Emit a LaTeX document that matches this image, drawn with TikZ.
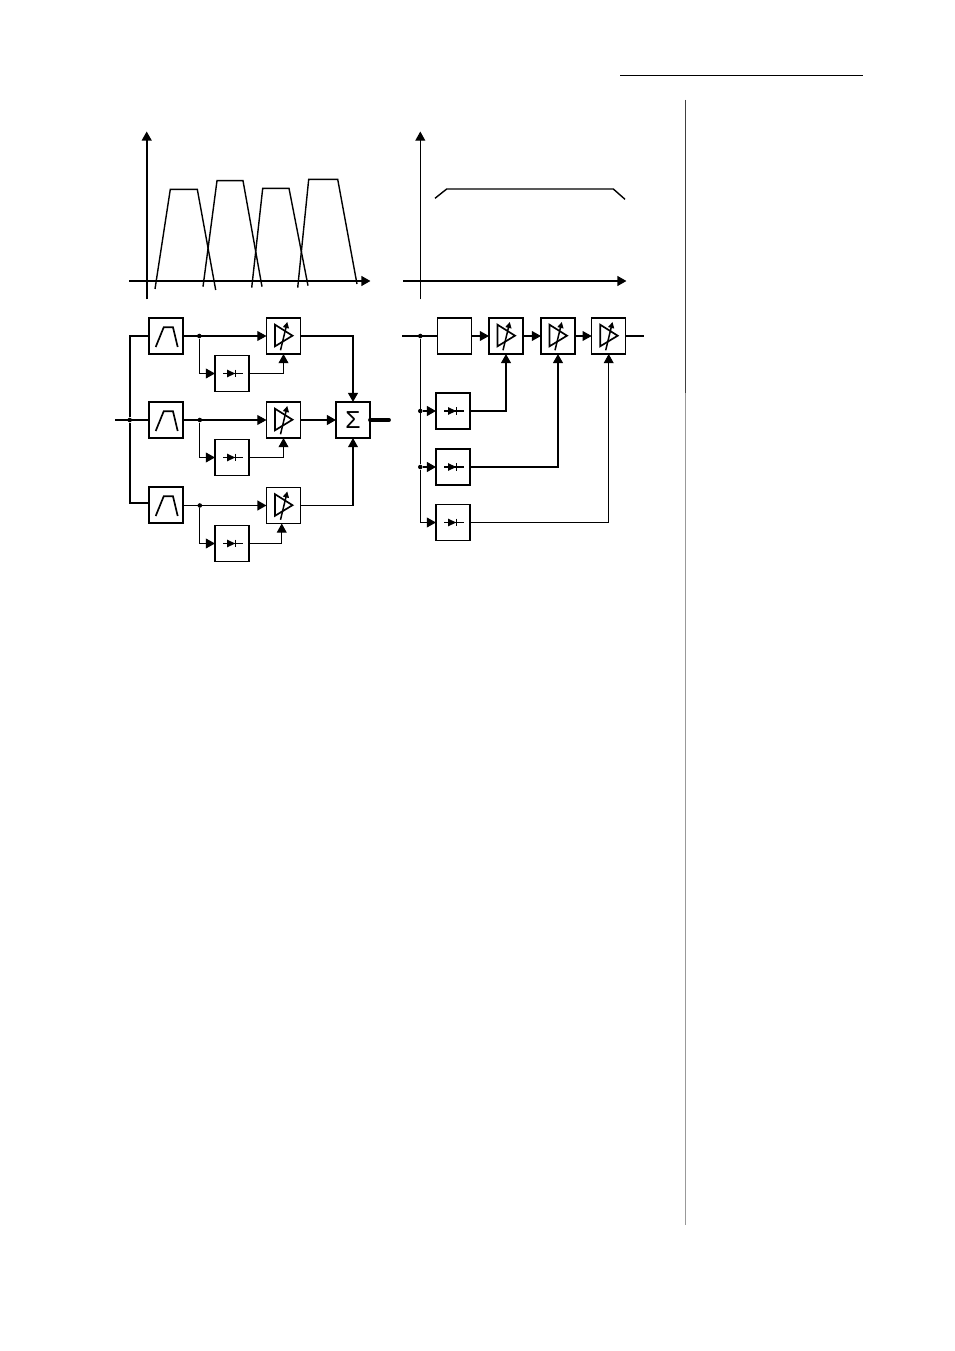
\documentclass[tikz,border=0pt]{standalone}
\usepackage{fontspec}
\setmainfont{Liberation Sans}
\usetikzlibrary{arrows.meta}

\tikzset{
	>={Triangle[length=5.2pt,width=5.6pt]},
	conn/.style={line width=0.6pt},
	thickconn/.style={line width=1pt},
	axis/.style={line width=1pt},
	curve/.style={line width=0.8pt},
	junc/.style={circle,fill,inner sep=0pt,minimum size=2.6pt},
	block/.style={draw,line width=1.1pt,inner sep=0pt,outer sep=0pt,minimum width=0.68cm,minimum height=0.72cm},
	thinblock/.style={block,line width=0.7pt},
	filtersym/.style={path picture={
		\draw[line width=0.95pt,shift={(path picture bounding box.center)}] (-10.3,11) -- (-2.3,-8.7) -- (7,-8.7) -- (11.7,11);
	}},
	ampsym/.style={path picture={
		\draw[line width=0.95pt,shift={(path picture bounding box.center)}] (-8.5,-11.3) -- (-8.5,10.3) -- (9,-0.3) -- cycle;
		\draw[->,line width=0.85pt,shift={(path picture bounding box.center)},>={Triangle[length=3.4pt,width=3.4pt]}] (-3,14.3) -- (3.8,-14);
	}},
	diodesym/.style={path picture={
		\fill[shift={(path picture bounding box.center)}] (-5,-3.9) -- (-5,3.9) -- (3.2,0) -- cycle;
		\draw[line width=0.85pt,shift={(path picture bounding box.center)}] (-9,0) -- (11,0);
		\draw[line width=0.85pt,shift={(path picture bounding box.center)}] (3.5,-3.9) -- (3.5,3.9);
	}},
}

\begin{document}
\begin{tikzpicture}[x=0.02cm,y=-0.02cm]
	\useasboundingbox (0,0) rectangle (954,1351);

	% page rules
	\draw[line width=0.6pt] (620,75.2) coordinate (ruleL) -- (863,75.2) coordinate (ruleR);
	\draw[line width=0.5pt,black!40] (685,100) coordinate (sideT) -- (685,1225) coordinate (sideB);
	\draw[line width=0.5pt,black!75] (sideT) -- (685,393) coordinate (sideM);

	% left spectrum
	\coordinate (ax1t) at (146.7,131.5);
	\coordinate (ax1b) at (146.7,299.5);
	\coordinate (ax1l) at (129.3,281);
	\coordinate (ax1r) at (370.5,281);
	\draw[->,axis] (ax1b) -- (ax1t);
	\draw[->,axis] (ax1l) -- (ax1r);
	\draw[curve] (155,289) -- (170.3,189.3) -- (197.3,189.3) -- (215.7,290);
	\draw[curve] (203,286.7) -- (217,180.7) -- (243,180.7) -- (262,286.7);
	\draw[curve] (251.7,287.7) -- (262.7,188.3) -- (289,188.3) -- (308,285.7);
	\draw[curve] (297.7,287.7) -- (308.7,179.3) -- (337.7,179.3) -- (357,284);

	% right spectrum
	\coordinate (ax2t) at (420.3,131.5);
	\coordinate (ax2b) at (420.3,299.5);
	\coordinate (ax2l) at (403,281);
	\coordinate (ax2r) at (626.5,281);
	\draw[->,conn] (ax2b) -- (ax2t);
	\draw[->,axis] (ax2l) -- (ax2r);
	\draw[curve] (435,198.3) -- (446.7,189) -- (613.3,189) -- (625,199.3);

	% left chain
	\begin{scope}
		\node[block,filtersym] (f1) at (166,336) {};
		\node[block,filtersym] (f2) at (166,420) {};
		\node[thinblock,filtersym] (f3) at (166,505) {};

		\node[thinblock,diodesym] (d1) at (232,373.5) {};
		\node[thinblock,diodesym] (d2) at (232,457.5) {};
		\node[block,diodesym] (d3) at (232,543.5) {};

		\node[thinblock,ampsym] (a1) at (283.5,336) {};
		\node[thinblock,ampsym] (a2) at (283.5,420) {};
		\node[thinblock,ampsym] (a3) at (283.5,505.5) {};

		\node[block,font=\fontsize{14}{14}\selectfont] (sum) at (353,420) {Σ};

		\coordinate (in1) at (115,420);
		\coordinate (out1) at (389,420);
		\coordinate (f3w) at (148.7,503);
		\node[junc] (j0) at (129.7,420) {};
		\node[junc] (j1) at (199.3,336) {};
		\node[junc] (j2) at (199.8,420) {};
		\node[junc] (j3) at (199.8,505.5) {};

		\draw[conn] (in1) -- (f2);
		\draw[thickconn] (j0) |- (f1);
		\draw[thickconn] (j0) |- (f3w);

		\draw[->,conn] (f1) -- (a1);
		\draw[->,conn] (f2) -- (a2);
		\draw[->,thickconn] (f3.east |- a3) -- (a3);

		\draw[->,conn] (j1) |- (d1);
		\draw[->,conn] (j2) |- (d2);
		\draw[->,conn] (j3) |- (d3);

		\draw[->,conn] (d1) -| (a1);
		\draw[->,conn] (d2) -| (a2);
		\draw[->,conn] (d3.east) -| ([xshift=-0.035cm]a3.south);

		\draw[->,thickconn] (a1) -| (sum);
		\draw[->,thickconn] (a2) -- (sum);
		\draw[->,conn] (a3) -| (sum);
		\draw[line width=2.2pt,line cap=round] (sum) -- (out1);
	\end{scope}

	% right chain
	\begin{scope}
		\node[thinblock] (f4) at (454.3,336) {};
		\node[block,ampsym] (a4) at (506,336) {};
		\node[block,ampsym] (a5) at (558,336) {};
		\node[thinblock,ampsym] (a6) at (608.7,336) {};

		\node[block,diodesym] (d4) at (453,411) {};
		\node[block,diodesym] (d5) at (453,467) {};
		\node[block,diodesym] (d6) at (453,522.5) {};

		\coordinate (in2) at (402,336);
		\coordinate (out2) at (643.5,336);
		\node[junc] (j4) at (420.3,336) {};
		\node[junc] (j5) at (420.3,411) {};
		\node[junc] (j6) at (420.3,467) {};

		\draw[conn] (in2) -- (f4);
		\draw[->,conn] (f4) -- (a4);
		\draw[->,conn] (a4) -- (a5);
		\draw[->,conn] (a5) -- (a6);
		\draw[conn] (a6) -- (out2);

		\draw[conn] (j4) -- (j6);
		\draw[->,thickconn] (j5) -- (d4);
		\draw[->,thickconn] (j6) -- (d5);
		\draw[->,conn] (j6) |- (d6);

		\draw[->,thickconn] (d4) -| (a4);
		\draw[->,thickconn] (d5) -| (a5);
		\draw[->,conn] (d6) -| (a6);
	\end{scope}
\end{tikzpicture}
\end{document}
